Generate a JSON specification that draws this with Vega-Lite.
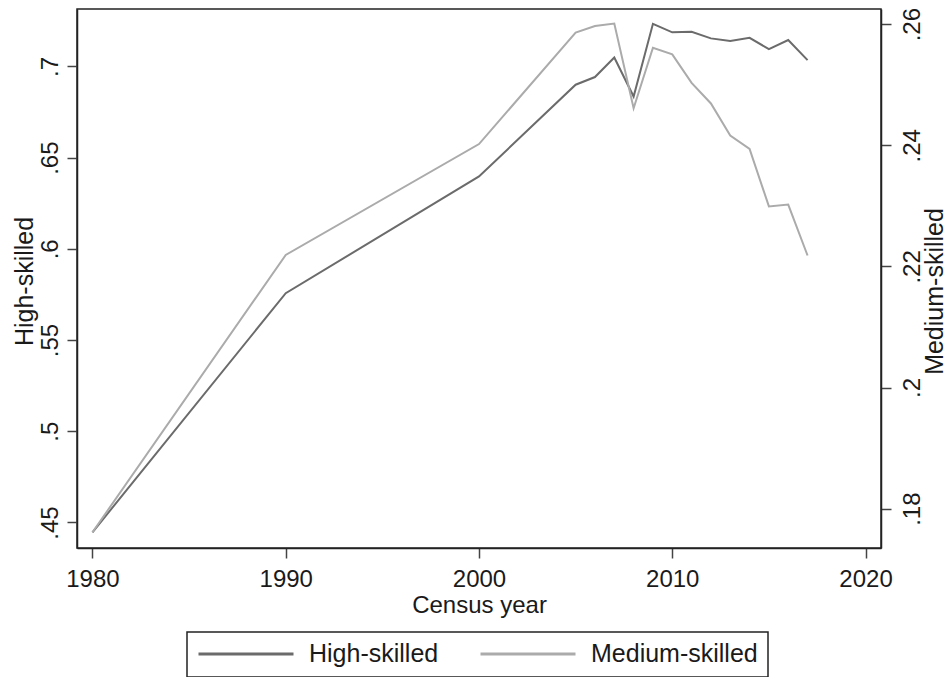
{
  "$schema": "https://vega.github.io/schema/vega-lite/v6.json",
  "width": 804,
  "height": 539,
  "autosize": {"type": "none"},
  "padding": {"left": 77, "top": 9, "right": 67, "bottom": 129},
  "background": "white",
  "config": {
    "font": "Liberation Sans",
    "view": {"stroke": "#222222", "strokeWidth": 1.5},
    "axis": {
      "grid": false,
      "domainColor": "#222222",
      "domainWidth": 1.5,
      "tickColor": "#444444",
      "tickWidth": 1.5,
      "tickSize": 10,
      "labelFontSize": 24,
      "labelColor": "#1a1a1a",
      "titleFontSize": 24,
      "titleFontWeight": "normal",
      "titleColor": "#1a1a1a",
      "labelFlush": false,
      "labelOverlap": false,
      "labelBound": false
    }
  },
  "data": {
    "values": [
      {"year": 1980, "series": "High-skilled", "value": 0.4446},
      {"year": 1990, "series": "High-skilled", "value": 0.5757},
      {"year": 2000, "series": "High-skilled", "value": 0.6397},
      {"year": 2005, "series": "High-skilled", "value": 0.6900},
      {"year": 2006, "series": "High-skilled", "value": 0.6942},
      {"year": 2007, "series": "High-skilled", "value": 0.7049},
      {"year": 2008, "series": "High-skilled", "value": 0.6835},
      {"year": 2009, "series": "High-skilled", "value": 0.7234},
      {"year": 2010, "series": "High-skilled", "value": 0.7187},
      {"year": 2011, "series": "High-skilled", "value": 0.7190},
      {"year": 2012, "series": "High-skilled", "value": 0.7154},
      {"year": 2013, "series": "High-skilled", "value": 0.7139},
      {"year": 2014, "series": "High-skilled", "value": 0.7157},
      {"year": 2015, "series": "High-skilled", "value": 0.7095},
      {"year": 2016, "series": "High-skilled", "value": 0.7145},
      {"year": 2017, "series": "High-skilled", "value": 0.7035},
      {"year": 1980, "series": "Medium-skilled", "value": 0.1761},
      {"year": 1990, "series": "Medium-skilled", "value": 0.2219},
      {"year": 2000, "series": "Medium-skilled", "value": 0.2402},
      {"year": 2005, "series": "Medium-skilled", "value": 0.2586},
      {"year": 2006, "series": "Medium-skilled", "value": 0.2597},
      {"year": 2007, "series": "Medium-skilled", "value": 0.2601},
      {"year": 2008, "series": "Medium-skilled", "value": 0.2461},
      {"year": 2009, "series": "Medium-skilled", "value": 0.2561},
      {"year": 2010, "series": "Medium-skilled", "value": 0.2550},
      {"year": 2011, "series": "Medium-skilled", "value": 0.2503},
      {"year": 2012, "series": "Medium-skilled", "value": 0.2469},
      {"year": 2013, "series": "Medium-skilled", "value": 0.2416},
      {"year": 2014, "series": "Medium-skilled", "value": 0.2394},
      {"year": 2015, "series": "Medium-skilled", "value": 0.2299},
      {"year": 2016, "series": "Medium-skilled", "value": 0.2302},
      {"year": 2017, "series": "Medium-skilled", "value": 0.2218}
    ]
  },
  "encoding": {
    "x": {
      "field": "year",
      "type": "quantitative",
      "scale": {"domain": [1979.2, 2020.8], "nice": false, "zero": false},
      "axis": {
        "title": "Census year",
        "values": [1980, 1990, 2000, 2010, 2020],
        "format": "d",
        "labelPadding": 9,
        "labelBaseline": "top",
        "titleX": 402,
        "titleY": 57,
        "titleAlign": "center",
        "titleBaseline": "middle"
      }
    },
    "color": {
      "field": "series",
      "type": "nominal",
      "scale": {"domain": ["High-skilled", "Medium-skilled"], "range": ["#6b6b6b", "#ababab"]},
      "legend": {
        "title": null,
        "orient": "none",
        "legendX": 110,
        "legendY": 623,
        "direction": "horizontal",
        "columns": 2,
        "symbolType": "stroke",
        "symbolSize": 9025,
        "symbolStrokeWidth": 3,
        "clipHeight": 24,
        "labelFontSize": 25,
        "labelLimit": 400,
        "labelColor": "#1a1a1a",
        "labelOffset": 14,
        "columnPadding": 40,
        "padding": 10,
        "strokeColor": "#222222",
        "fillColor": "white",
        "encode": {"legend": {"update": {"strokeWidth": {"value": 1.5}}}}
      }
    }
  },
  "layer": [
    {
      "transform": [{"filter": "datum.series === 'High-skilled'"}],
      "mark": {"type": "line", "strokeWidth": 2},
      "encoding": {
        "y": {
          "field": "value",
          "type": "quantitative",
          "scale": {"domain": [0.436, 0.7315], "nice": false, "zero": false},
          "axis": {
            "orient": "left",
            "title": "High-skilled",
            "values": [0.45, 0.5, 0.55, 0.6, 0.65, 0.7],
            "labelExpr": "replace(format(datum.value, '.2~f'), '0.', '.')",
            "labelAngle": 270,
            "labelAlign": "center",
            "labelBaseline": "alphabetic",
            "labelPadding": 10,
            "titleFontSize": 25,
            "titleAngle": 270,
            "titleX": -53,
            "titleY": 272,
            "titleAlign": "center",
            "titleBaseline": "middle"
          }
        }
      }
    },
    {
      "transform": [{"filter": "datum.series === 'Medium-skilled'"}],
      "mark": {"type": "line", "strokeWidth": 2},
      "encoding": {
        "y": {
          "field": "value",
          "type": "quantitative",
          "scale": {"domain": [0.1735, 0.2625], "nice": false, "zero": false},
          "axis": {
            "orient": "right",
            "title": "Medium-skilled",
            "values": [0.18, 0.2, 0.22, 0.24, 0.26],
            "labelExpr": "replace(format(datum.value, '.2~f'), '0.', '.')",
            "labelAngle": 270,
            "labelAlign": "center",
            "labelBaseline": "top",
            "labelPadding": 9,
            "titleFontSize": 25,
            "titleAngle": 270,
            "titleX": 53,
            "titleY": 282,
            "titleAlign": "center",
            "titleBaseline": "middle"
          }
        }
      }
    }
  ],
  "resolve": {"scale": {"y": "independent"}}
}
